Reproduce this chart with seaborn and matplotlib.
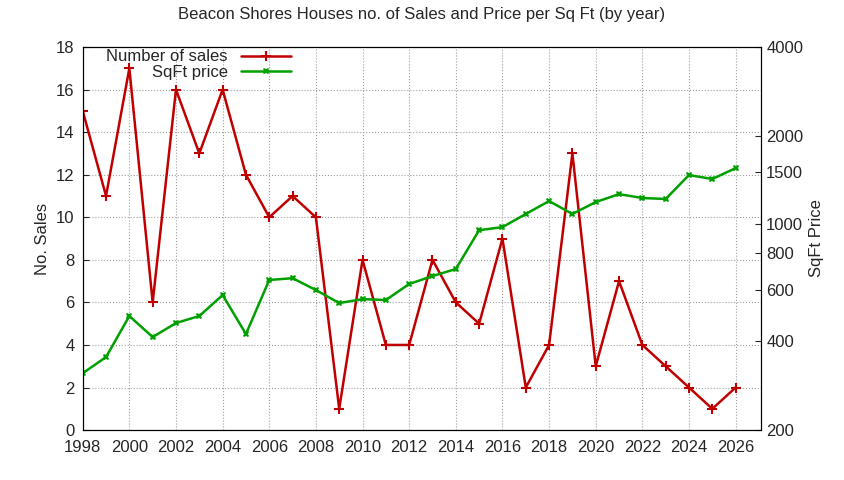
import matplotlib
matplotlib.use("Agg")
import matplotlib.pyplot as plt
import seaborn as sns
import pandas as pd
from matplotlib.ticker import FixedLocator, NullLocator, FixedFormatter

years = list(range(1998, 2027))
sales = [15, 11, 17, 6, 16, 13, 16, 12, 10, 11, 10, 1, 8, 4, 4, 8, 6, 5, 9, 2, 4, 13, 3, 7, 4, 3, 2, 1, 2]
sqft_price = [312, 354, 488, 414, 462, 488, 575, 424, 647, 656, 598, 540, 557, 553, 627, 667, 705,
              955, 978, 1084, 1199, 1084, 1190, 1266, 1228, 1219, 1470, 1425, 1552]

df = pd.DataFrame({"year": years, "sales": sales, "price": sqft_price})

sns.set_style("white")
plt.rcParams['font.family'] = ['Liberation Sans', 'DejaVu Sans']
fig = plt.figure(figsize=(8.44, 4.8), dpi=100)
ax = fig.add_axes([0.098, 0.104, 0.804, 0.798])
ax2 = ax.twinx()

sns.lineplot(data=df, x="year", y="sales", ax=ax, color="#c00000", lw=1.8, marker="+",
             markersize=7, mew=1.5, markeredgecolor="#c00000", label="Number of sales", legend=False)
sns.lineplot(data=df, x="year", y="price", ax=ax2, color="#00a000", lw=1.8, marker="X",
             markersize=5, mew=0, label="SqFt price", legend=False)

ax.set_xlim(1998, 2027.1)
ax.set_ylim(0, 18)
ax.set_xticks(range(1998, 2027, 2))
ax.set_yticks(range(0, 19, 2))
ax.set_xlabel("")
ax.set_ylabel("No. Sales", fontsize=12)
ax.grid(True, color="#a0a0a0", linestyle=":", lw=0.8)

ax2.set_yscale("log")
ax2.set_ylim(200, 4000)
rt = [200, 400, 600, 800, 1000, 1500, 2000, 4000]
ax2.yaxis.set_major_locator(FixedLocator(rt))
ax2.yaxis.set_major_formatter(FixedFormatter([str(v) for v in rt]))
ax2.yaxis.set_minor_locator(NullLocator())
ax2.set_ylabel("SqFt Price", fontsize=12)
ax2.set_xlabel("")

for a in (ax, ax2):
    a.tick_params(labelsize=12, direction="in", length=4)
    for s in a.spines.values():
        s.set_color("black")
ax.tick_params(axis="x", pad=7)
ax.tick_params(axis="y", pad=6)

h1, l1 = ax.get_legend_handles_labels()
h2, l2 = ax2.get_legend_handles_labels()
ax.legend(h1 + h2, l1 + l2, loc="upper left", bbox_to_anchor=(0.02, 1.02), frameon=False,
          markerfirst=False, fontsize=12, handlelength=3, borderaxespad=0.2, labelspacing=0.05)

fig.suptitle("Beacon Shores Houses no. of Sales and Price per Sq Ft (by year)", y=0.985, fontsize=12)
fig.savefig("out.png", dpi=100)
